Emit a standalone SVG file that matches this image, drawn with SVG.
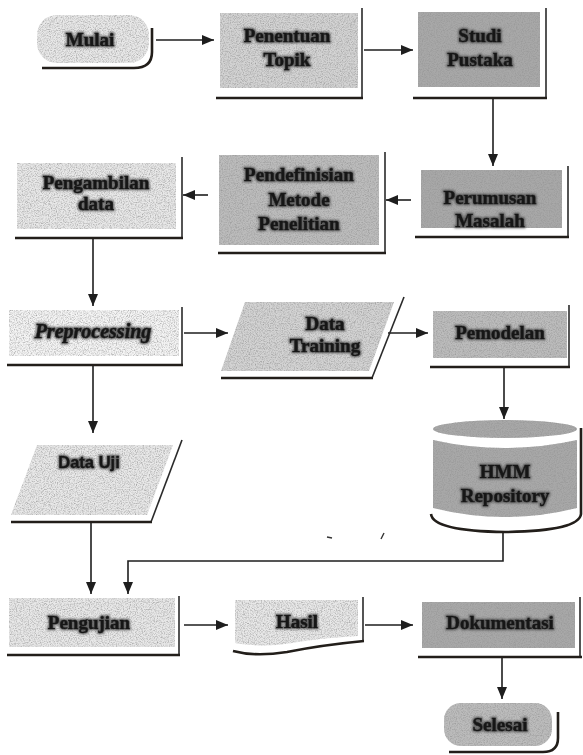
<svg xmlns="http://www.w3.org/2000/svg" width="583" height="755" viewBox="0 0 583 755">
<defs>
<style>
.t{font-family:"Liberation Serif","Times New Roman",serif;font-weight:bold;font-size:19px;fill:#141414;stroke:#141414;stroke-width:0.5;text-anchor:middle;filter:url(#ink)}
.ts{font-family:"Liberation Sans",Arial,sans-serif;font-weight:bold;font-size:16.5px;fill:#141414;stroke:#141414;stroke-width:0.4;text-anchor:middle;filter:url(#ink)}
.ti{font-family:"Liberation Serif","Times New Roman",serif;font-weight:bold;font-style:italic;font-size:20px;fill:#141414;stroke:#141414;stroke-width:0.5;text-anchor:middle;filter:url(#ink)}
.sh{fill:none;stroke:#221e1a;stroke-width:2.6}
.shr{fill:none;stroke:#2a2a2a;stroke-width:1.6}
.c{fill:none;stroke:#1e1e1e;stroke-width:1.6}
.l1{fill:#f4f4f4;filter:url(#grain)}
.l2{fill:#e8e8e8;filter:url(#grain)}
.l3{fill:#d3d3d3;filter:url(#grain)}
.l4{fill:#bcbcbc;filter:url(#grain)}
.l5{fill:#a8a8a8;filter:url(#grain)}
</style>
<filter id="ink" x="-10%" y="-40%" width="120%" height="180%">
<feMorphology in="SourceAlpha" operator="dilate" radius="1" result="d"/>
<feGaussianBlur in="d" stdDeviation="1.1" result="b"/>
<feFlood flood-color="#4a4a4a" flood-opacity="0.85"/>
<feComposite in2="b" operator="in" result="h"/>
<feMerge><feMergeNode in="h"/><feMergeNode in="SourceGraphic"/></feMerge>
</filter>
<filter id="grain" x="0" y="0" width="100%" height="100%">
<feTurbulence type="fractalNoise" baseFrequency="0.85" numOctaves="2" seed="5" result="n"/>
<feColorMatrix in="n" type="matrix" values="0 0 0 0 0.3  0 0 0 0 0.3  0 0 0 0 0.3  1.8 0 0 0 -0.72" result="s"/>
<feComposite in="s" in2="SourceGraphic" operator="in" result="sp"/>
<feMerge><feMergeNode in="SourceGraphic"/><feMergeNode in="sp"/></feMerge>
</filter>
<marker id="ah" viewBox="0 0 12 10" refX="12" refY="5" markerWidth="12" markerHeight="10" markerUnits="userSpaceOnUse" orient="auto">
<path d="M0,0 L12,5 L0,10 z" fill="#1e1e1e"/>
</marker>
</defs>
<rect width="583" height="755" fill="#ffffff"/>

<g id="connectors">
<path class="c" d="M156 40 H214" marker-end="url(#ah)"/>
<path class="c" d="M364 50 H413" marker-end="url(#ah)"/>
<path class="c" d="M493 98 V166" marker-end="url(#ah)"/>
<path class="c" d="M411 200 H386" marker-end="url(#ah)"/>
<path class="c" d="M208 195 H183" marker-end="url(#ah)"/>
<path class="c" d="M93 238 V306" marker-end="url(#ah)"/>
<path class="c" d="M184 333 H228" marker-end="url(#ah)"/>
<path class="c" d="M388 333 H428" marker-end="url(#ah)"/>
<path class="c" d="M504 367 V419" marker-end="url(#ah)"/>
<path class="c" d="M93 365 V433" marker-end="url(#ah)"/>
<path class="c" d="M91 522 V594" marker-end="url(#ah)"/>
<path class="c" d="M503 532 V561 H128 V594" marker-end="url(#ah)"/>
<path class="c" d="M184 625 H228" marker-end="url(#ah)"/>
<path class="c" d="M365 625 H413" marker-end="url(#ah)"/>
<path class="c" d="M502 657 V699" marker-end="url(#ah)"/>
</g>

<g id="mulai">
<rect class="l2" x="37" y="15" width="112" height="48" rx="20"/>
<path class="sh" d="M42 68 H134 Q152 68 152 52 V28"/>
<text class="t" x="90" y="46">Mulai</text>
</g>

<g id="penentuan-topik">
<rect class="l3" x="220" y="13" width="138" height="75"/>
<path class="shr" d="M362 8 V98"/>
<path class="sh" d="M216 98 H363"/>
<text class="t" x="287" y="42">Penentuan</text>
<text class="t" x="287" y="66">Topik</text>
</g>

<g id="studi-pustaka">
<rect class="l5" x="418" y="12" width="122" height="75"/>
<path class="shr" d="M546 8 V98"/>
<path class="sh" d="M413 98 H547"/>
<text class="t" x="480" y="42">Studi</text>
<text class="t" x="480" y="66">Pustaka</text>
</g>

<g id="perumusan-masalah">
<rect class="l5" x="421" y="170" width="141" height="58"/>
<path class="shr" d="M568 166 V237"/>
<path class="sh" d="M415 237 H569"/>
<text class="t" x="490" y="204">Perumusan</text>
<text class="t" x="490" y="227">Masalah</text>
</g>

<g id="pendefinisian-metode-penelitian">
<rect class="l4" x="219" y="155" width="160" height="90"/>
<path class="shr" d="M385 152 V253"/>
<path class="sh" d="M218 253 H386"/>
<text class="t" x="299" y="181">Pendefinisian</text>
<text class="t" x="299" y="206">Metode</text>
<text class="t" x="299" y="230">Penelitian</text>
</g>

<g id="pengambilan-data">
<rect class="l2" x="17" y="163" width="159" height="66"/>
<path class="shr" d="M182 157 V238"/>
<path class="sh" d="M15 238 H183"/>
<text class="t" x="96" y="189">Pengambilan</text>
<text class="t" x="96" y="210">data</text>
</g>

<g id="preprocessing">
<rect class="l1" x="9" y="310" width="170" height="46"/>
<path class="shr" d="M182 307 V365"/>
<path class="sh" d="M7 365 H183"/>
<text class="ti" x="93" y="338">Preprocessing</text>
</g>

<g id="data-training">
<path class="l3" d="M245 302 H394 L369 371 H221 Z"/>
<path class="shr" d="M404 297 L372 378"/>
<path class="sh" d="M221 378 H373"/>
<text class="t" x="325" y="330">Data</text>
<text class="t" x="325" y="352">Training</text>
</g>

<g id="pemodelan">
<rect class="l4" x="433" y="311" width="134" height="47"/>
<path class="shr" d="M569 305 V367"/>
<path class="sh" d="M430 367 H570"/>
<text class="t" x="500" y="339">Pemodelan</text>
</g>

<g id="data-uji">
<path class="l2" d="M37 445 H173 L147 515 H11 Z"/>
<path class="shr" d="M182 440 L151 522"/>
<path class="sh" d="M11 522 H152"/>
<text class="ts" x="89" y="468">Data Uji</text>
</g>

<g id="hmm-repository">
<ellipse class="l5" cx="505" cy="429" rx="72" ry="9"/>
<path class="l5" d="M433 440 Q505 456 577 440 V508 Q505 526 433 508 Z"/>
<path class="sh" d="M431 514 Q433 531 505 532 Q579 531 581 514 V428"/>
<text class="t" x="505" y="478">HMM</text>
<text class="t" x="505" y="502">Repository</text>
</g>

<g id="artifacts">
<path d="M327 537 L332 538" stroke="#333" stroke-width="1.4" fill="none"/>
<path d="M384 533 L381 539" stroke="#333" stroke-width="1.4" fill="none"/>
</g>

<g id="pengujian">
<rect class="l2" x="9" y="598" width="166" height="49"/>
<path class="shr" d="M179 596 V655"/>
<path class="sh" d="M7 655 H180"/>
<text class="t" x="89" y="629">Pengujian</text>
</g>

<g id="hasil">
<path class="l2" d="M235 600 H358 V636 Q320 638 292 643 Q262 648 235 643 Z"/>
<path class="shr" d="M363 597 V641"/>
<path class="sh" d="M233 651 Q255 657 287 652 Q322 645 364 641"/>
<text class="t" x="297" y="628">Hasil</text>
</g>

<g id="dokumentasi">
<rect class="l5" x="422" y="602" width="153" height="46"/>
<path class="shr" d="M580 597 V657"/>
<path class="sh" d="M418 657 H582"/>
<text class="t" x="500" y="629">Dokumentasi</text>
</g>

<g id="selesai">
<rect class="l4" x="444" y="703" width="108" height="43" rx="17"/>
<path class="sh" d="M449 752 H543 Q558 752 558 738 V712"/>
<text class="t" x="500" y="731">Selesai</text>
</g>
</svg>
